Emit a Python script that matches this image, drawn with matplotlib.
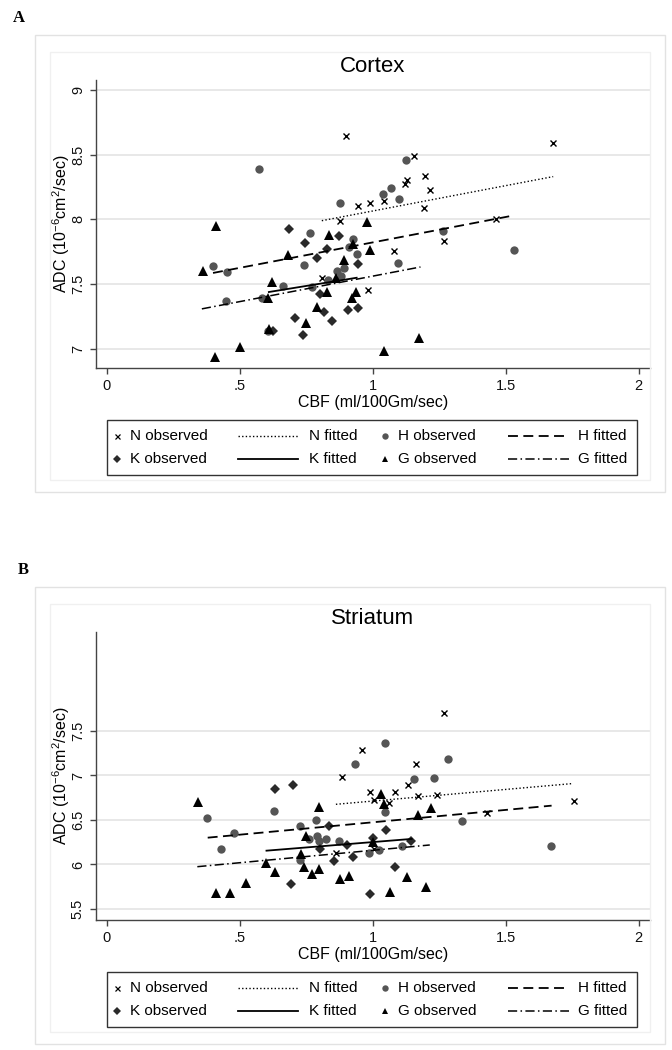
import matplotlib
matplotlib.use("Agg")
import matplotlib.pyplot as plt
from matplotlib.lines import Line2D
from matplotlib.patches import Rectangle

plt.rcParams['font.family'] = ['Liberation Sans', 'DejaVu Sans']

# ---------------- data: Cortex (panel A) ----------------
cx_N_cbf = [0.809, 0.877, 0.900, 0.946, 0.983, 0.991, 1.041, 1.079, 1.121, 1.131, 1.155, 1.192, 1.197, 1.214, 1.269, 1.465, 1.679]
cx_N_adc = [7.55, 7.99, 8.64, 8.105, 7.454, 8.123, 8.144, 7.754, 8.272, 8.305, 8.487, 8.087, 8.331, 8.223, 7.831, 8.002, 8.587]

cx_H_cbf = [0.400, 0.450, 0.451, 0.573, 0.586, 0.605, 0.663, 0.743, 0.764, 0.773, 0.833, 0.868, 0.878, 0.880, 0.893, 0.911, 0.926, 0.940, 1.039, 1.070, 1.100, 1.125, 1.096, 1.265, 1.530]
cx_H_adc = [7.644, 7.367, 7.592, 8.385, 7.39, 7.141, 7.49, 7.646, 7.897, 7.475, 7.536, 7.602, 8.125, 7.567, 7.628, 7.785, 7.851, 7.733, 8.198, 8.244, 8.154, 8.456, 7.664, 7.91, 7.762]

cx_K_cbf = [0.624, 0.685, 0.710, 0.738, 0.745, 0.792, 0.802, 0.817, 0.829, 0.847, 0.872, 0.906, 0.944, 0.946]
cx_K_adc = [7.141, 7.928, 7.241, 7.108, 7.815, 7.703, 7.421, 7.287, 7.775, 7.22, 7.872, 7.305, 7.313, 7.659]

cx_G_cbf = [0.363, 0.409, 0.410, 0.501, 0.608, 0.610, 0.623, 0.683, 0.748, 0.792, 0.828, 0.835, 0.861, 0.893, 0.923, 0.927, 0.937, 0.979, 0.991, 1.041, 1.175]
cx_G_adc = [7.60, 6.941, 7.949, 7.018, 7.392, 7.154, 7.515, 7.723, 7.202, 7.321, 7.438, 7.879, 7.546, 7.69, 7.392, 7.808, 7.438, 7.982, 7.767, 6.985, 7.087]

# fitted lines (endpoints)
cx_N_fit_x = [0.809, 1.679]
cx_N_fit_y = [7.99, 8.33]
cx_H_fit_x = [0.400, 1.532]
cx_H_fit_y = [7.587, 8.031]
cx_K_fit_x = [0.610, 0.940]
cx_K_fit_y = [7.44, 7.55]
cx_G_fit_x = [0.358, 1.180]
cx_G_fit_y = [7.31, 7.633]

# ---------------- data: Striatum (panel B) ----------------
st_N_cbf = [0.863, 0.886, 0.961, 0.990, 1.004, 1.006, 1.062, 1.085, 1.133, 1.164, 1.169, 1.243, 1.269, 1.430, 1.758]
st_N_adc = [6.126, 6.98, 7.283, 6.811, 6.171, 6.725, 6.688, 6.811, 6.89, 7.129, 6.774, 6.785, 7.706, 6.575, 6.717]

st_H_cbf = [0.378, 0.430, 0.477, 0.628, 0.727, 0.728, 0.761, 0.787, 0.791, 0.800, 0.826, 0.872, 0.932, 0.986, 1.025, 1.046, 1.047, 1.110, 1.155, 1.232, 1.282, 1.337, 1.670]
st_H_adc = [6.526, 6.178, 6.357, 6.598, 6.05, 6.436, 6.29, 6.497, 6.32, 6.26, 6.29, 6.267, 7.129, 6.129, 6.163, 7.365, 6.593, 6.211, 6.96, 6.972, 7.185, 6.485, 6.211]

st_K_cbf = [0.633, 0.695, 0.699, 0.802, 0.836, 0.855, 0.902, 0.928, 0.989, 1.000, 1.050, 1.086, 1.144]
st_K_adc = [6.845, 5.784, 6.897, 6.171, 6.436, 6.04, 6.22, 6.084, 5.668, 6.294, 6.391, 5.975, 6.26]

st_G_cbf = [0.342, 0.411, 0.462, 0.523, 0.599, 0.633, 0.729, 0.741, 0.748, 0.772, 0.799, 0.799, 0.876, 0.910, 1.002, 1.031, 1.042, 1.066, 1.128, 1.169, 1.200, 1.218]
st_G_adc = [6.706, 5.683, 5.683, 5.789, 6.013, 5.92, 6.118, 5.969, 6.32, 5.89, 5.946, 6.643, 5.84, 5.871, 6.25, 6.792, 6.683, 5.694, 5.863, 6.556, 5.75, 6.631]

st_N_fit_x = [0.862, 1.748]
st_N_fit_y = [6.676, 6.908]
st_H_fit_x = [0.380, 1.673]
st_H_fit_y = [6.301, 6.661]
st_K_fit_x = [0.601, 1.147]
st_K_fit_y = [6.155, 6.287]
st_G_fit_x = [0.341, 1.215]
st_G_fit_y = [5.975, 6.219]

x_ticks = [0, 0.5, 1, 1.5, 2]
x_ticklabels = ['0', '.5', '1', '1.5', '2']
cx_y_ticks = [7, 7.5, 8, 8.5, 9]
cx_y_ticklabels = ['7', '7.5', '8', '8.5', '9']
st_y_ticks = [5.5, 6, 6.5, 7, 7.5]
st_y_ticklabels = ['5.5', '6', '6.5', '7', '7.5']

titles = ['Cortex', 'Striatum']
panel_letters = ['A', 'B']
legend_labels = ['N observed', 'N fitted', 'H observed', 'H fitted',
                 'K observed', 'K fitted', 'G observed', 'G fitted']

# ---------------- styles ----------------
W, H = 672, 1050
fig = plt.figure(figsize=(W / 100, H / 100), dpi=100)
fig.patch.set_facecolor('white')

def fx(px):
    return px / W

def fy(py):
    return 1 - py / H

obs_style = {
    'N': dict(marker='x', color='black', markersize=4.6, markeredgewidth=1.0, linestyle='none'),
    'H': dict(marker='o', color='#555555', markersize=6.0, markeredgewidth=0, linestyle='none'),
    'K': dict(marker='D', color='#2a2a2a', markersize=5.0, markeredgewidth=0, linestyle='none'),
    'G': dict(marker='^', color='black', markersize=6.6, markeredgewidth=0, linestyle='none'),
}
leg_obs_style = {
    'N': dict(marker='x', color='black', markersize=3.6, markeredgewidth=0.9, linestyle='none'),
    'H': dict(marker='o', color='#555555', markersize=4.6, markeredgewidth=0, linestyle='none'),
    'K': dict(marker='D', color='#2a2a2a', markersize=3.8, markeredgewidth=0, linestyle='none'),
    'G': dict(marker='^', color='black', markersize=5.0, markeredgewidth=0, linestyle='none'),
}
fit_style = {
    'N': dict(color='black', linewidth=1.0, linestyle=(0, (1, 1.6))),
    'H': dict(color='black', linewidth=1.3, linestyle=(0, (5.5, 3))),
    'K': dict(color='black', linewidth=1.3, linestyle='-'),
    'G': dict(color='black', linewidth=1.1, linestyle=(0, (6, 2.2, 1, 2.2))),
}

panels = [
    dict(N=(cx_N_cbf, cx_N_adc), H=(cx_H_cbf, cx_H_adc), K=(cx_K_cbf, cx_K_adc), G=(cx_G_cbf, cx_G_adc),
         fN=(cx_N_fit_x, cx_N_fit_y), fH=(cx_H_fit_x, cx_H_fit_y), fK=(cx_K_fit_x, cx_K_fit_y), fG=(cx_G_fit_x, cx_G_fit_y),
         yticks=cx_y_ticks, yticklabels=cx_y_ticklabels, ylim=(6.854, 9.075)),
    dict(N=(st_N_cbf, st_N_adc), H=(st_H_cbf, st_H_adc), K=(st_K_cbf, st_K_adc), G=(st_G_cbf, st_G_adc),
         fN=(st_N_fit_x, st_N_fit_y), fH=(st_H_fit_x, st_H_fit_y), fK=(st_K_fit_x, st_K_fit_y), fG=(st_G_fit_x, st_G_fit_y),
         yticks=st_y_ticks, yticklabels=st_y_ticklabels, ylim=(5.376, 8.612)),
]

OFF = 552
ax_left, ax_right = 96, 650
ax_top, ax_bot = 80, 368

for i, p in enumerate(panels):
    off = OFF * i
    # outer graph frame and inner region frame
    fig.add_artist(Rectangle((fx(35), fy(492 + off)), fx(630), 457 / H, transform=fig.transFigure,
                             facecolor='none', edgecolor='#e2e2e2', linewidth=1.0))
    fig.add_artist(Rectangle((fx(50), fy(480 + off)), fx(600), 428 / H, transform=fig.transFigure,
                             facecolor='none', edgecolor='#f0f0f0', linewidth=1.0))
    fig.text(fx(13 if i == 0 else 18), fy(18 + off), panel_letters[i], family=['Liberation Serif', 'DejaVu Serif'],
             weight='bold', fontsize=12, ha='left', va='center')

    ax = fig.add_axes([fx(ax_left), fy(ax_bot + off), (ax_right - ax_left) / W, (ax_bot - ax_top) / H])
    ax.set_xlim(-0.040, 2.043)
    ax.set_ylim(*p['ylim'])
    ax.set_xticks(x_ticks)
    ax.set_xticklabels(x_ticklabels)
    ax.set_yticks(p['yticks'])
    ax.set_yticklabels(p['yticklabels'], rotation=90, va='center')
    ax.grid(axis='y', color='#e4e4e4', linewidth=1.2)
    ax.set_axisbelow(True)
    for s in ['top', 'right']:
        ax.spines[s].set_visible(False)
    for s in ['left', 'bottom']:
        ax.spines[s].set_color('#444444')
        ax.spines[s].set_linewidth(1.0)
    ax.tick_params(axis='both', direction='out', length=4, width=1.0, color='#444444',
                   labelsize=10.5, pad=4, labelcolor='#111111')

    for key in ['N', 'H', 'K', 'G']:
        ax.plot(*p[key], **obs_style[key], zorder=3)
    for key in ['N', 'H', 'K', 'G']:
        ax.plot(*p['f' + key], **fit_style[key], zorder=4)

    ax.set_xlabel('CBF (ml/100Gm/sec)', fontsize=11.5, va='center', ha='center')
    ax.xaxis.set_label_coords(0.5, (ax_bot - 403) / (ax_bot - ax_top))
    ax.set_ylabel('ADC (10$^{\\mathregular{-6}}$cm$^{\\mathregular{2}}$/sec)', fontsize=11.5, va='center', ha='center')
    ax.yaxis.set_label_coords((61 - ax_left) / (ax_right - ax_left), 0.5)
    ax.text(0.5, (ax_bot - 67) / (ax_bot - ax_top), titles[i], transform=ax.transAxes,
            fontsize=16, ha='center', va='center')

    # legend box drawn in figure pixels
    fig.add_artist(Rectangle((fx(107), fy(475 + off)), fx(530), 55 / H, transform=fig.transFigure,
                             facecolor='white', edgecolor='#333333', linewidth=1.0))
    rows = [436 + off, 459 + off]
    entries = [[('obs', 'N'), ('fit', 'N'), ('obs', 'H'), ('fit', 'H')],
               [('obs', 'K'), ('fit', 'K'), ('obs', 'G'), ('fit', 'G')]]
    col_mark = [117, None, 385, None]
    col_line = [None, (238, 298), None, (508, 569)]
    col_text = [130, 309, 398, 578]
    for r, row in enumerate(entries):
        for c, (kind, key) in enumerate(row):
            yy = fy(rows[r])
            if kind == 'obs':
                fig.add_artist(Line2D([fx(col_mark[c])], [yy], transform=fig.transFigure, **leg_obs_style[key]))
            else:
                x0, x1 = col_line[c]
                fig.add_artist(Line2D([fx(x0), fx(x1)], [yy, yy], transform=fig.transFigure, **fit_style[key]))
            fig.text(fx(col_text[c]), yy, legend_labels[r * 4 + c], fontsize=11, ha='left', va='center')

fig.savefig('out.png', dpi=100, facecolor='white')
